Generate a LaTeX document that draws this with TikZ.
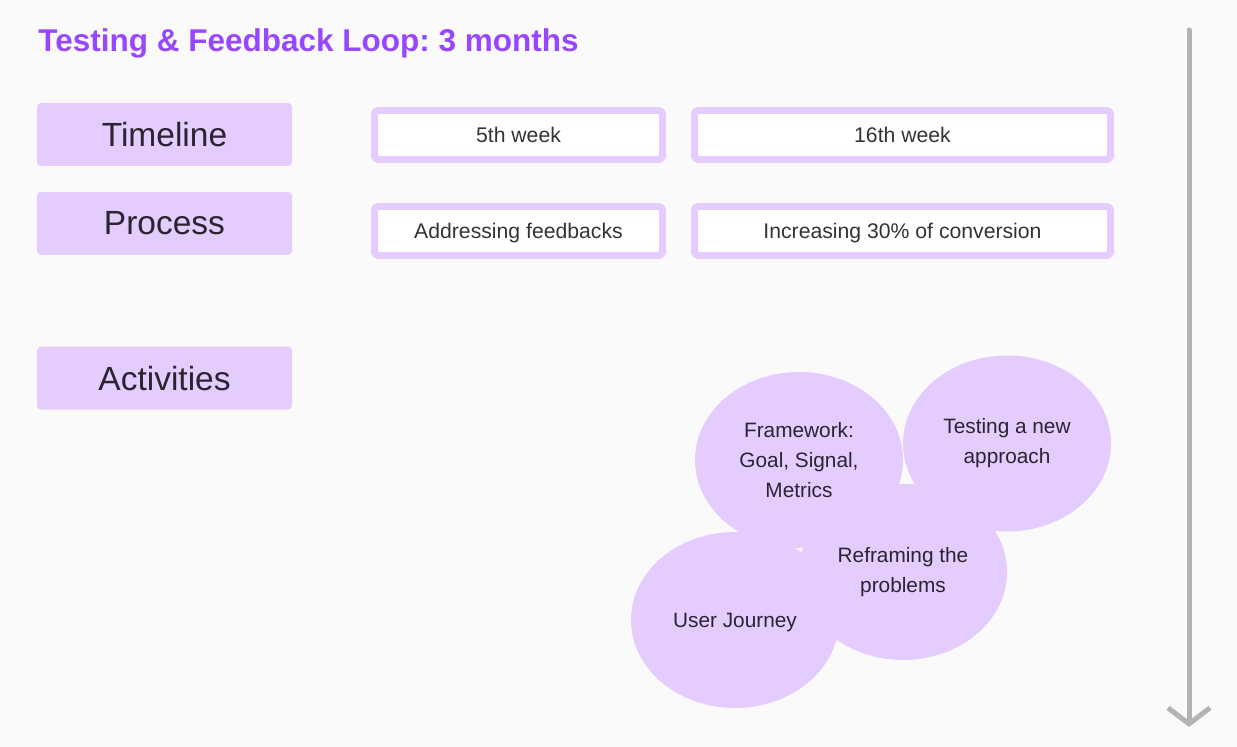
\documentclass[tikz,border=0pt]{standalone}
\usepackage{fontspec}
\setmainfont{Liberation Sans}
\usepackage{xcolor}
\usepackage{tikz}
\usetikzlibrary{shapes.geometric, arrows.meta, positioning}
\definecolor{LoopPurple}{HTML}{9747FF}
\definecolor{LilacFill}{HTML}{E4CCFF}
\definecolor{InkDark}{HTML}{2B2430}
\definecolor{CellText}{HTML}{333333}
\definecolor{PageGray}{HTML}{FAFAFA}
\definecolor{AxisGray}{HTML}{B3B3B3}
\frenchspacing

\begin{document}
\begin{tikzpicture}[x=0.5pt, y=-0.5pt,
  rowlabel/.style={rectangle, rounded corners=2pt, fill=LilacFill,
    minimum width=127.5pt, minimum height=31.5pt, inner sep=0pt,
    font=\fontsize{16.75}{20}\selectfont, text=InkDark},
  cell/.style={rectangle, rounded corners=2pt, draw=LilacFill,
    line width=3.5pt, fill=white, minimum height=24.5pt, inner sep=0pt,
    text height=7.6pt, text depth=0pt,
    font=\fontsize{10.6}{13}\selectfont, text=CellText},
  activity/.style={ellipse, fill=LilacFill, minimum width=104pt,
    minimum height=88pt, inner sep=0pt, align=center,
    font=\fontsize{10.4}{15}\selectfont, text=InkDark},
  axis/.style={-{Straight Barb[length=8pt, width=21pt]}, line width=2.5pt,
    AxisGray, line cap=round, line join=round}
]

\fill[PageGray] (0,0) rectangle (1237,747);

\node[anchor=base west, inner sep=0pt, text=LoopPurple,
  font=\fontsize{15.75}{19}\selectfont\bfseries] (title) at (38,52)
  {Testing \& Feedback Loop: 3 months};

\node[rowlabel] (timeline) at (164.5,134.5) {Timeline};
\node[rowlabel, below=12.5pt of timeline] (process) {Process};
\node[rowlabel, below=45.5pt of process] (activities) {Activities};

\node[cell, minimum width=144pt] (wk5) at (518.5,135) {5th week};
\node[cell, minimum width=208pt, right=12.5pt of wk5] (wk16) {16th week};
\node[cell, minimum width=144pt, below=20pt of wk5] (feedbacks) {Addressing feedbacks};
\node[cell, minimum width=208pt, below=20pt of wk16] (conversion) {Increasing 30\% of conversion};

\node[activity] (framework) at (799,460) {Framework:\\Goal, Signal,\\Metrics};
\node[activity] (newapproach) at (1007,443.5) {Testing a new\\approach};
\node[activity] (reframing) at (903,572) {Reframing the\\problems};
\node[activity, text depth=0pt] (journey) at (735,620) {User Journey};

\coordinate (axtop) at (1189,30);
\coordinate (axend) at (1189,727);
\draw[axis] (axtop) -- (axend);

\end{tikzpicture}
\end{document}
